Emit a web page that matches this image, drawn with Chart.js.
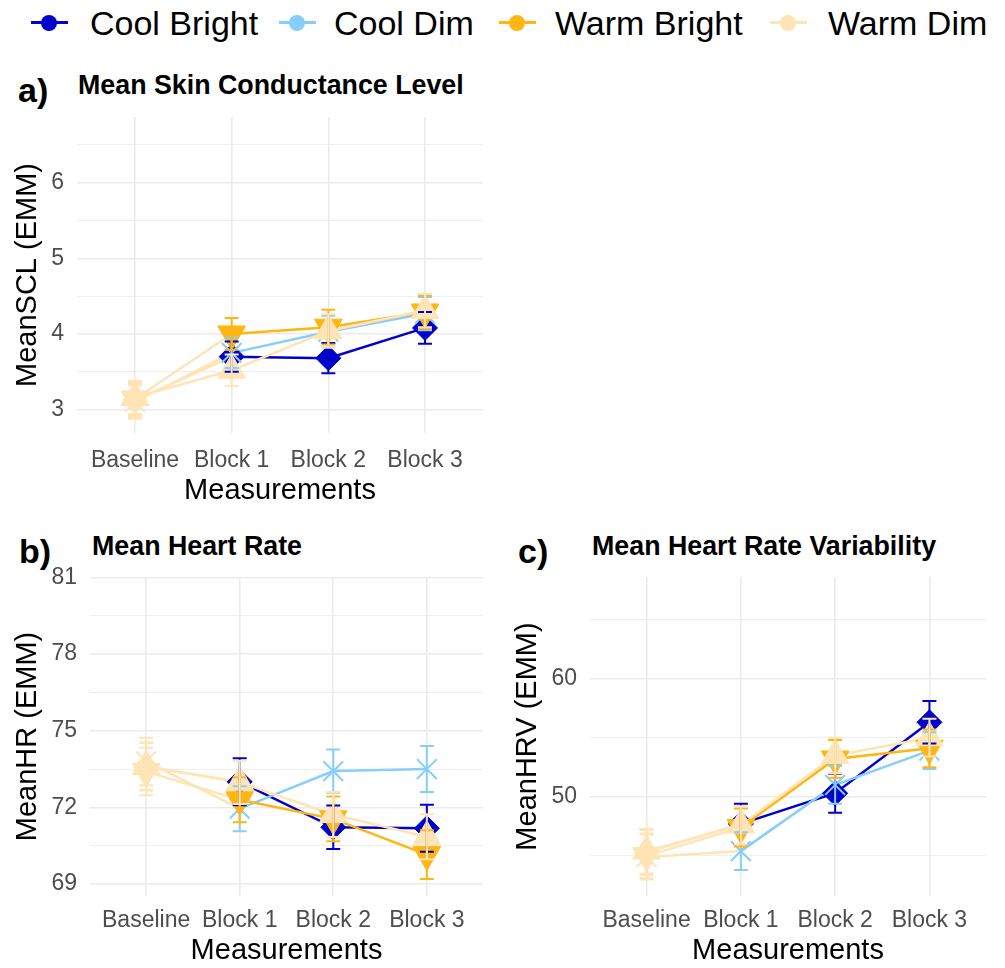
<!DOCTYPE html>
<html>
<head>
<meta charset="utf-8">
<script src="https://cdn.jsdelivr.net/npm/chart.js@4.4.1/dist/chart.umd.min.js"></script>
<style>
  body { margin: 0; background: #fff; font-family: "Liberation Sans", Arial, sans-serif; }
  #page { position: relative; width: 1005px; height: 968px; overflow: hidden; background: #fff; }
  canvas { position: absolute; }
  .txt { position: absolute; white-space: nowrap; line-height: 1; color: #000; }
  .letter { font-weight: bold; font-size: 34px; }
  .title { font-weight: bold; font-size: 26.8px; }
  .legtext { font-size: 34px; }
  .legline { position: absolute; width: 37px; height: 3px; }
  .legdot { position: absolute; width: 16px; height: 16px; border-radius: 50%; }
</style>
</head>
<body>
<div id="page">
  <div id="legend"></div>

  <div class="txt letter" style="left:18px; top:73px;">a)</div>
  <div class="txt title" style="left:78px; top:72px;">Mean Skin Conductance Level</div>
  <canvas id="chartA" width="500" height="412" style="left:0; top:100px;"></canvas>

  <div class="txt letter" style="left:19px; top:534px;">b)</div>
  <div class="txt title" style="left:92px; top:533px;">Mean Heart Rate</div>
  <canvas id="chartB" width="500" height="408" style="left:0; top:560px;"></canvas>

  <div class="txt letter" style="left:518px; top:534px;">c)</div>
  <div class="txt title" style="left:592px; top:533px;">Mean Heart Rate Variability</div>
  <canvas id="chartC" width="505" height="408" style="left:500px; top:560px;"></canvas>
</div>

<script>
// ---- data ----
const categories = ['Baseline', 'Block 1', 'Block 2', 'Block 3'];
const seriesNames = ['Cool Bright', 'Cool Dim', 'Warm Bright', 'Warm Dim'];
const seriesColors = ['#0000CD', '#87CEFA', '#FFB612', '#FFE4B5'];
const baselineColor = '#FFE4B5';

// a) Mean skin conductance level (EMM) and error half-widths
const sclCoolBright = [3.12, 3.70, 3.68, 4.08];
const sclCoolDim = [3.10, 3.75, 4.03, 4.27];
const sclWarmBright = [3.14, 4.00, 4.09, 4.29];
const sclWarmDim = [3.16, 3.52, 4.04, 4.31];
const sclErrCoolBright = [0.22, 0.20, 0.20, 0.21];
const sclErrCoolDim = [0.22, 0.20, 0.21, 0.22];
const sclErrWarmBright = [0.22, 0.21, 0.23, 0.22];
const sclErrWarmDim = [0.22, 0.21, 0.22, 0.22];
const sclTicks = [3, 3.5, 4, 4.5, 5, 5.5, 6, 6.5];
const sclTickLabels = ['3', '', '4', '', '5', '', '6', ''];

// b) Mean heart rate
const hrCoolBright = [73.6, 73.0, 71.22, 71.18];
const hrCoolDim = [73.8, 71.95, 73.42, 73.5];
const hrWarmBright = [73.4, 72.3, 71.55, 70.15];
const hrWarmDim = [73.6, 72.98, 71.72, 70.85];
const hrErrCoolBright = [0.93, 0.92, 0.85, 0.92];
const hrErrCoolDim = [0.93, 0.88, 0.85, 0.90];
const hrErrWarmBright = [0.93, 0.88, 0.88, 0.95];
const hrErrWarmDim = [0.93, 0.85, 0.88, 0.88];
const hrTicks = [69, 70.5, 72, 73.5, 75, 76.5, 78, 79.5, 81];
const hrTickLabels = ['69', '', '72', '', '75', '', '78', '', '81'];

// c) Mean heart rate variability
const hrvCoolBright = [45.3, 47.7, 50.3, 56.3];
const hrvCoolDim = [44.9, 45.4, 51.0, 53.9];
const hrvWarmBright = [45.0, 47.4, 53.2, 54.1];
const hrvWarmDim = [45.4, 47.6, 53.5, 55.0];
const hrvErrCoolBright = [1.9, 1.7, 1.65, 1.8];
const hrvErrCoolDim = [1.9, 1.6, 1.6, 1.55];
const hrvErrWarmBright = [1.9, 1.6, 1.6, 1.6];
const hrvErrWarmDim = [1.9, 1.6, 1.5, 1.6];
const hrvTicks = [45, 50, 55, 60, 65];
const hrvTickLabels = ['', '50', '', '60', ''];

// marker look per series (diamond, x, down triangle, up triangle)
const markers = [
  { style: 'rectRot', rot: 0, r: 12.5, bw: 1 },
  { style: 'crossRot', rot: 0, r: 14, bw: 2 },
  { style: 'triangle', rot: 180, r: 16, bw: 1 },
  { style: 'triangle', rot: 0, r: 16, bw: 1 },
];

Chart.defaults.font.family = '"Liberation Sans", Arial, sans-serif';

// legend
const legendPos = [
  { sym: 49, text: 90 },
  { sym: 297, text: 334 },
  { sym: 517, text: 555 },
  { sym: 788, text: 828 },
];
const legend = document.getElementById('legend');
seriesNames.forEach((name, i) => {
  const p = legendPos[i];
  legend.insertAdjacentHTML('beforeend',
    `<div class="legline" style="left:${p.sym - 18.5}px; top:21px; background:${seriesColors[i]}"></div>` +
    `<div class="legdot" style="left:${p.sym - 8}px; top:14.5px; background:${seriesColors[i]}"></div>` +
    `<div class="txt legtext" style="left:${p.text}px; top:6px;">${name}</div>`);
});

// error bars drawn on top of points
const errorBars = {
  id: 'errorBars',
  afterDatasetsDraw(chart) {
    const { ctx, scales: { x, y } } = chart;
    ctx.save();
    ctx.lineWidth = 2;
    chart.data.datasets.forEach((ds) => {
      if (!ds.err) return;
      ds.data.forEach((p, i) => {
        const px = x.getPixelForValue(p.x);
        const top = y.getPixelForValue(p.y + ds.err[i]);
        const bot = y.getPixelForValue(p.y - ds.err[i]);
        ctx.strokeStyle = i === 0 ? baselineColor : ds.mainColor;
        ctx.beginPath();
        ctx.moveTo(px, top); ctx.lineTo(px, bot);
        ctx.moveTo(px - 7, top); ctx.lineTo(px + 7, top);
        ctx.moveTo(px - 7, bot); ctx.lineTo(px + 7, bot);
        ctx.stroke();
      });
    });
    ctx.restore();
  }
};

function makeChart(id, vals, errs, ticks, tickLabels, yMin, yMax, yTitle, box) {
  const lineSets = vals.map((v, s) => ({
    data: v.map((y, i) => ({ x: i, y })),
    borderColor: seriesColors[s],
    borderWidth: 2.5,
    pointRadius: 0,
    segment: { borderColor: c => c.p0DataIndex === 0 ? baselineColor : seriesColors[s] },
    order: 20 - s,
  }));
  const pointSets = vals.map((v, s) => ({
    data: v.map((y, i) => ({ x: i, y })),
    showLine: false,
    pointStyle: markers[s].style,
    pointRotation: markers[s].rot,
    pointRadius: markers[s].r,
    pointBorderWidth: markers[s].bw,
    pointBackgroundColor: v.map((_, i) => i === 0 ? baselineColor : seriesColors[s]),
    pointBorderColor: v.map((_, i) => i === 0 ? baselineColor : seriesColors[s]),
    err: errs[s],
    mainColor: seriesColors[s],
    order: 10 - s,
  }));

  return new Chart(document.getElementById(id), {
    type: 'line',
    data: { datasets: [...lineSets, ...pointSets] },
    plugins: [errorBars],
    options: {
      responsive: false,
      animation: false,
      devicePixelRatio: 1,
      layout: { padding: { top: box.top, right: box.right, left: 0, bottom: 0 } },
      plugins: { legend: { display: false }, tooltip: { enabled: false } },
      scales: {
        x: {
          type: 'linear', min: -0.6, max: 3.6,
          afterBuildTicks: (s) => { s.ticks = categories.map((c, i) => ({ value: i })); },
          afterFit: (s) => { s.height = box.xh; s.paddingLeft = 0; s.paddingRight = 0; },
          ticks: { autoSkip: false, maxRotation: 0, padding: box.xpad, color: '#4D4D4D', font: { size: 23 },
                   callback: (v) => categories[Math.round(v)] },
          grid: { color: '#EBEBEB', lineWidth: 1.6, drawTicks: false },
          border: { display: false },
          title: { display: true, text: 'Measurements', color: '#000', font: { size: 29 },
                   padding: { top: 0, bottom: box.tpad } },
        },
        y: {
          min: yMin, max: yMax,
          afterBuildTicks: (s) => { s.ticks = ticks.map(v => ({ value: v })); },
          afterFit: (s) => { s.width = box.yw; s.paddingTop = 0; s.paddingBottom = 0; },
          ticks: { autoSkip: false, padding: 13, color: '#4D4D4D', font: { size: 23 },
                   callback: (v, i) => tickLabels[i] },
          grid: { color: '#EBEBEB', drawTicks: false,
                  lineWidth: (c) => (tickLabels[c.index] ? 1.6 : 0.8) },
          border: { display: false },
          title: { display: true, text: yTitle, color: '#000', font: { size: 29 },
                   padding: { top: 11, bottom: 0 } },
        },
      },
    },
  });
}

makeChart('chartA',
  [sclCoolBright, sclCoolDim, sclWarmBright, sclWarmDim],
  [sclErrCoolBright, sclErrCoolDim, sclErrWarmBright, sclErrWarmDim],
  sclTicks, sclTickLabels, 2.69, 6.87, 'MeanSCL (EMM)',
  { top: 15, right: 10, yw: 77, xh: 79, xpad: 14, tpad: 4 });

makeChart('chartB',
  [hrCoolBright, hrCoolDim, hrWarmBright, hrWarmDim],
  [hrErrCoolBright, hrErrCoolDim, hrErrWarmBright, hrErrWarmDim],
  hrTicks, hrTickLabels, 68.53, 81.02, 'MeanHR (EMM)',
  { top: 17, right: 12, yw: 90, xh: 72, xpad: 11, tpad: 0 });

makeChart('chartC',
  [hrvCoolBright, hrvCoolDim, hrvWarmBright, hrvWarmDim],
  [hrvErrCoolBright, hrvErrCoolDim, hrvErrWarmBright, hrvErrWarmDim],
  hrvTicks, hrvTickLabels, 41.6, 68.6, 'MeanHRV (EMM)',
  { top: 17, right: 19, yw: 90, xh: 72, xpad: 11, tpad: 0 });
</script>
</body>
</html>
